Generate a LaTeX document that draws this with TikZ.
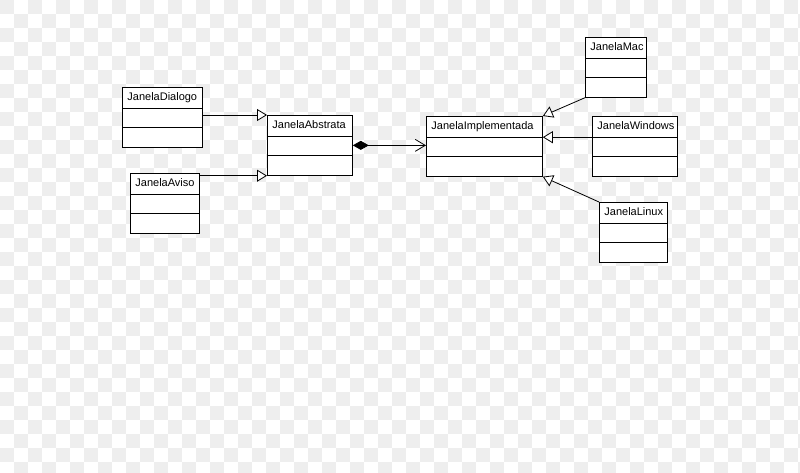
\documentclass[tikz,border=0pt]{standalone}
\usepackage{fontspec}
\setmainfont{Liberation Sans}
\usetikzlibrary{shapes.multipart,arrows.meta}

\definecolor{tilegray}{HTML}{EEEEEE}

% the three compartments of a class box
\newcommand*{\umlparts}[1]{\rule[-7pt]{0pt}{20pt}#1\nodepart{two}\rule{0pt}{18.5pt}\nodepart{three}\rule{0pt}{19pt}}

\tikzset{
	umlclass/.style={draw,line width=0.8pt,fill=white,rectangle split,rectangle split parts=3,
		anchor=north west,inner xsep=5pt,inner ysep=0pt,align=left,font=\fontsize{11}{13}\selectfont},
	inherit/.style={-{Triangle[length=10pt,width=12pt,fill=white]},line width=0.8pt},
	compose/.style={{Diamond[length=16pt,width=9pt]}-{Straight Barb[length=10pt,width=12pt]},line width=0.8pt}
}

\begin{document}
\begin{tikzpicture}[x=1pt,y=-1pt]
	\useasboundingbox (0,0) rectangle (800,472);
	
	% checkered background
	\begin{scope}
		\clip (0,0) rectangle (800,472);
		\fill[white] (0,0) rectangle (800,472);
		\foreach \i in {0,2,...,56} {
			\foreach \j in {0,2,...,32} {
				\fill[tilegray] (\i*14,\j*14) rectangle ++(14,14);
				\fill[tilegray] (\i*14+14,\j*14+14) rectangle ++(14,14);
			}
		}
	\end{scope}
	
	% classes
	\node[umlclass,text width=70pt] (dialogo) at (122,87) {\umlparts{JanelaDialogo}};
	\node[umlclass,text width=59pt] (aviso) at (130,173) {\umlparts{JanelaAviso}};
	\node[umlclass,text width=75pt] (abstrata) at (267,115) {\umlparts{JanelaAbstrata}};
	\node[umlclass,text width=106pt] (implementada) at (426,116) {\umlparts{JanelaImplementada}};
	\node[umlclass,text width=51pt] (mac) at (585,37) {\umlparts{JanelaMac}};
	\node[umlclass,text width=75pt] (windows) at (592,116) {\umlparts{JanelaWindows}};
	\node[umlclass,text width=58pt] (linux) at (599,202) {\umlparts{JanelaLinux}};
	
	% generalisation
	\draw[inherit] (dialogo.east |- abstrata.north west) -- (abstrata.north west);
	\draw[inherit] (aviso.east |- abstrata.south west) -- (abstrata.south west);
	\draw[inherit] (mac.south west) -- (implementada.north east);
	\draw[inherit] (windows.text split west) -- (windows.text split west -| implementada.east);
	\draw[inherit] (linux.north west) -- (implementada.south east);
	
	% composition
	\draw[compose] (abstrata.east) -- (abstrata.east -| implementada.west);
	
\end{tikzpicture}
\end{document}
